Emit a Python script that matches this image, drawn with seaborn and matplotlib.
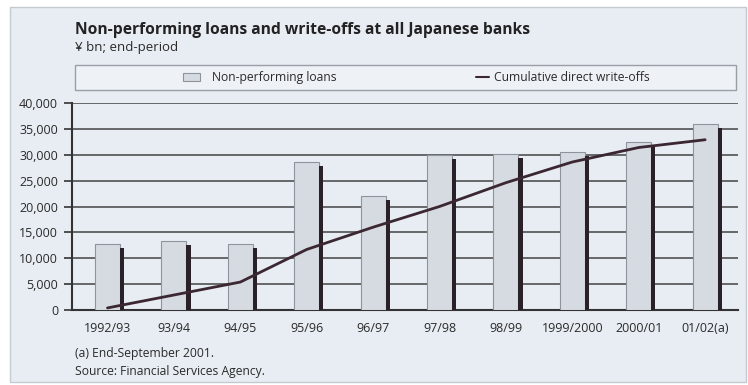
import numpy as np
import pandas as pd
import matplotlib
matplotlib.use("Agg")
import matplotlib.pyplot as plt
import seaborn as sns
from matplotlib.patches import Rectangle, Patch
from matplotlib.lines import Line2D
from matplotlib.ticker import FuncFormatter

# Data (¥ bn, end-period)
periods = ["1992/93", "93/94", "94/95", "95/96", "96/97", "97/98", "98/99",
           "1999/2000", "2000/01", "01/02(a)"]
npl = [12800, 13400, 12700, 28600, 22000, 29900, 30100, 30600, 32400, 36000]
writeoffs = [400, 2900, 5400, 11700, 16000, 20000, 24600, 28600, 31400, 32900]
yticks = [0, 5000, 10000, 15000, 20000, 25000, 30000, 35000, 40000]

title = "Non-performing loans and write-offs at all Japanese banks"
subtitle = "¥ bn; end-period"
label_npl = "Non-performing loans"
label_wo = "Cumulative direct write-offs"
note = "(a) End-September 2001."
source = "Source: Financial Services Agency."

sns.set_theme(style="white")
plt.rcParams["font.family"] = ["Open Sans", "DejaVu Sans"]

W, H = 748, 385
BG = "#e8edf3"
BAR = "#d6dae1"
BAR_EDGE = "#8e949c"
SHADOW = "#2a2027"
LINE = "#3b2732"
TXT = "#2a2a2a"
SMALL = 8.7


def fx(px):
    return px / W


def fy(py):
    return 1 - py / H


fig = plt.figure(figsize=(W / 100, H / 100), dpi=100, facecolor="white")

# panel background
fig.patches.append(Rectangle((fx(10), fy(382)), fx(736), 375 / H,
                             transform=fig.transFigure, facecolor=BG,
                             edgecolor="#c5cad1", lw=1, zorder=-2))

ax = fig.add_axes([fx(72), fy(310), fx(666), 207 / H])
ax.set_facecolor("none")

df = pd.DataFrame({"period": periods, "npl": npl, "writeoffs": writeoffs})

bar_w = 0.375
sns.barplot(data=df, x="period", y="npl", color=BAR, saturation=1,
            width=bar_w, edgecolor=BAR_EDGE, linewidth=0.8, ax=ax, zorder=3)

# dark side face of each bar
shadow_w = 0.065
idx = np.arange(len(periods))
ax.bar(idx + bar_w / 2 + shadow_w / 2, np.array(npl) - 800, width=shadow_w,
       color=SHADOW, linewidth=0, zorder=3)

sns.lineplot(x=idx, y=writeoffs, color=LINE, lw=2, ax=ax, zorder=4)

ax.set_xlim(-0.535, 9.495)
ax.set_ylim(0, 40000)
ax.set_yticks(yticks)
ax.yaxis.set_major_formatter(FuncFormatter(lambda v, p: f"{int(v):,}"))
ax.yaxis.grid(True, color="#505050", lw=1.2)
ax.xaxis.grid(False)
ax.set_axisbelow(True)
ax.set_xlabel("")
ax.set_ylabel("")

for s in ["top", "right"]:
    ax.spines[s].set_visible(False)
for s in ["left", "bottom"]:
    ax.spines[s].set_color("#333333")
    ax.spines[s].set_linewidth(1.5)

ax.tick_params(axis="y", which="major", left=True, length=6, width=1.2,
               color="#333333", labelsize=9, labelcolor=TXT, pad=4)
ax.tick_params(axis="x", which="major", bottom=False, labelsize=9,
               labelcolor=TXT, pad=3)

# titles
fig.text(fx(75), fy(30), title, fontsize=11.25, fontweight="bold",
         color="#222222", va="center", ha="left")
fig.text(fx(75), fy(47), subtitle, fontsize=9.5, color=TXT, va="center",
         ha="left")

# legend strip
fig.patches.append(Rectangle((fx(75), fy(90)), fx(661), 25 / H,
                             transform=fig.transFigure, facecolor="#eef2f7",
                             edgecolor="#9a9fa6", lw=1, zorder=1))
leg1 = fig.legend(handles=[Patch(facecolor=BAR, edgecolor=BAR_EDGE, lw=0.8)],
                  labels=[label_npl], loc="center left",
                  bbox_to_anchor=(fx(183), fy(77.5)), frameon=False,
                  borderpad=0, borderaxespad=0,
                  fontsize=SMALL, handlelength=1.4, handleheight=0.6,
                  handletextpad=1.0, labelcolor=TXT)
leg2 = fig.legend(handles=[Line2D([], [], color=LINE, lw=1.5)],
                  labels=[label_wo], loc="center left",
                  bbox_to_anchor=(fx(476), fy(77.5)), frameon=False,
                  borderpad=0, borderaxespad=0,
                  fontsize=SMALL, handlelength=1.1, handletextpad=0.35,
                  labelcolor=TXT)

# footnotes
fig.text(fx(75), fy(353), note, fontsize=SMALL, color=TXT, va="center",
         ha="left")
fig.text(fx(75), fy(372), source, fontsize=SMALL, color=TXT, va="center",
         ha="left")

fig.savefig("out.png", dpi=100, facecolor=fig.get_facecolor())
